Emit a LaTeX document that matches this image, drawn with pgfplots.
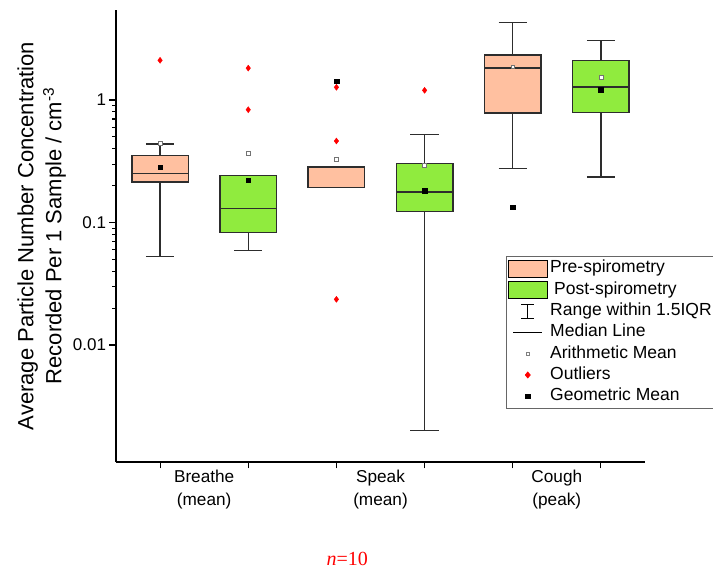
\documentclass[border=0pt]{standalone}
\usepackage{pgfplots}
\pgfplotsset{compat=1.18}
\usepackage{fontspec}
\setmainfont{Liberation Sans}
\newfontfamily\serifnum{Liberation Serif}
\definecolor{peach}{RGB}{255,192,160}
\definecolor{lgreen}{RGB}{144,235,62}
\definecolor{edge}{RGB}{45,45,45}

% box: #1 position, #2 lower whisker, #3 Q1, #4 median, #5 Q3, #6 upper whisker, #7 colour
\newcommand{\bx}[7]{%
  \pgfmathsetmacro\bxl{#1-0.32}\pgfmathsetmacro\bxr{#1+0.32}%
  \pgfmathsetmacro\bcl{#1-0.16}\pgfmathsetmacro\bcr{#1+0.16}%
  \addplot[forget plot, edge, line width=1.4bp] coordinates {(#1,#2) (#1,#3)};
  \addplot[forget plot, edge, line width=1.4bp] coordinates {(\bcl,#2) (\bcr,#2)};
  \addplot[forget plot, edge, line width=1.4bp] coordinates {(#1,#5) (#1,#6)};
  \addplot[forget plot, edge, line width=1.4bp] coordinates {(\bcl,#6) (\bcr,#6)};
  \addplot[forget plot, draw=edge, fill=#7, line width=1.5bp] coordinates {(\bxl,#3) (\bxr,#3) (\bxr,#5) (\bxl,#5)} -- cycle;
  \addplot[forget plot, edge, line width=1.4bp] coordinates {(\bxl,#4) (\bxr,#4)};
}

\begin{document}
\begin{tikzpicture}
\begin{axis}[
  name=ax,
  scale only axis,
  width=529bp, height=452bp,
  xmin=0.5, xmax=6.5,
  ymode=log, ymin=0.00111, ymax=5.43,
  axis lines=left,
  axis line style={-, line width=1.3bp, black},
  tick style={line width=1.1bp, black},
  tick align=outside,
  major tick length=6.5bp, minor tick length=3.5bp,
  xtick={1,2,3,4,5,6}, xticklabels={},
  extra x ticks={1.5,3.5,5.5},
  extra x tick labels={{Breathe\\(mean)},{Speak\\(mean)},{Cough\\(peak)}},
  extra x tick style={major tick length=0pt, tick label style={align=center, font=\fontsize{17.2bp}{23bp}\selectfont, yshift=-5bp}},
  ytick={0.01,0.1,1}, yticklabels={0.01,0.1,1},
  yticklabel style={font=\fontsize{17bp}{20bp}\selectfont},
  ylabel={Average Particle Number Concentration\\Recorded Per 1 Sample / cm\textsuperscript{-3}},
  ylabel style={align=center, font=\fontsize{22bp}{28bp}\selectfont},
  clip=false,
  legend cell align=left,
  legend style={at={(0.7372,0.4558)}, anchor=north west, draw=gray!80!black, line width=0.7bp,
    font=\fontsize{17.5bp}{19bp}\selectfont, inner sep=1.5bp, row sep=0pt,
    nodes={text height=12.5bp, text depth=3.8bp, inner ysep=2.5bp, inner xsep=2.5bp}},
]
\bx{1}{0.053}{0.214}{0.252}{0.354}{0.437}{peach}
\bx{2}{0.0589}{0.083}{0.130}{0.241}{0.241}{lgreen}
\bx{3}{0.194}{0.194}{0.194}{0.285}{0.285}{peach}
\bx{4}{0.002}{0.123}{0.178}{0.304}{0.521}{lgreen}
\bx{5}{0.275}{0.783}{1.83}{2.32}{4.28}{peach}
\bx{6}{0.236}{0.788}{1.28}{2.11}{3.05}{lgreen}

% arithmetic means
\addplot[forget plot, only marks, mark=square*, mark size=1.9bp, mark options={draw=gray!90!black, fill=white, line width=0.6bp}]
  coordinates {(1,0.443) (2,0.367) (3,0.330) (4,0.291) (5,1.87) (6,1.53)};
% outliers
\addplot[forget plot, only marks, mark=diamond*, mark size=3bp, mark options={draw=red, fill=red}]
  coordinates {(1,2.11) (2,1.82) (2,0.833) (3,1.27) (3,0.463) (3,0.0236) (4,1.20)};
% geometric means
\addplot[forget plot, only marks, mark=square*, mark size=2.3bp, mark options={draw=black, fill=black}]
  coordinates {(1,0.282) (2,0.221) (3,1.42) (4,0.181) (5,0.133) (6,1.22)};

\addlegendimage{legend image code/.code={\draw[fill=peach, draw=black, line width=0.9bp] (0bp,-8.5bp) rectangle (39bp,8.5bp);}}
\addlegendentry{Pre-spirometry}
\addlegendimage{legend image code/.code={\draw[fill=lgreen, draw=black, line width=0.9bp] (0bp,-8.5bp) rectangle (39bp,8.5bp);}}
\addlegendentry{\hspace{4bp}Post-spirometry}
\addlegendimage{legend image code/.code={\draw[black, line width=0.9bp] (19.5bp,-7bp) -- (19.5bp,7bp) (13bp,-7bp) -- (26bp,-7bp) (13bp,7bp) -- (26bp,7bp);}}
\addlegendentry{Range within 1.5IQR}
\addlegendimage{legend image code/.code={\draw[black, line width=0.9bp] (5bp,0bp) -- (34bp,0bp);}}
\addlegendentry{Median Line}
\addlegendimage{legend image code/.code={\draw[gray, line width=0.5bp, fill=white] (17.8bp,-1.7bp) rectangle (21.2bp,1.7bp); \path (0bp,0bp) (39bp,0bp);}}
\addlegendentry{Arithmetic Mean}
\addlegendimage{legend image code/.code={\fill[red] (19.5bp,-3bp) -- (22bp,0bp) -- (19.5bp,3bp) -- (17bp,0bp) -- cycle; \path (0bp,0bp) (39bp,0bp);}}
\addlegendentry{Outliers}
\addlegendimage{legend image code/.code={\fill[black] (17.2bp,-2.3bp) rectangle (21.8bp,2.3bp); \path (0bp,0bp) (39bp,0bp);}}
\addlegendentry{Geometric Mean}

\node[text=red, font=\serifnum\fontsize{20bp}{24bp}\selectfont] at (axis description cs:0.437,-0.215) {\textit{n}=10};
\end{axis}
\pgfresetboundingbox
\path[use as bounding box] ([shift={(-116bp,-107bp)}]ax.south west) rectangle ([shift={(597bp,462bp)}]ax.south west);
\end{tikzpicture}
\end{document}
